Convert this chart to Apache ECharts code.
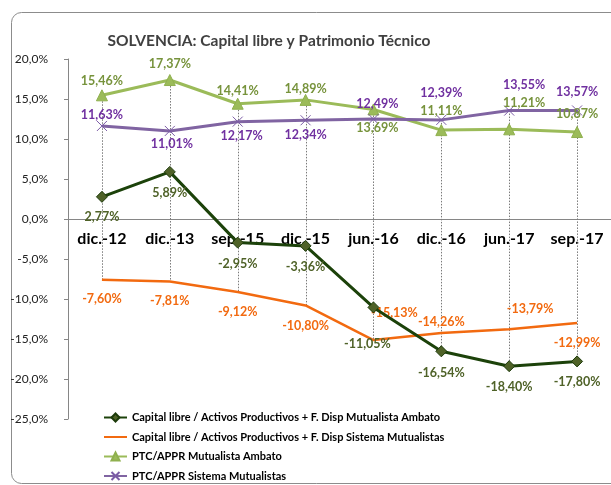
<!DOCTYPE html>
<html>
<head>
<meta charset="utf-8">
<script src="https://cdn.jsdelivr.net/npm/echarts@6/dist/echarts.min.js"></script>
<style>
html,body{margin:0;padding:0;background:#fff;}
#chart{width:611px;height:485px;}
</style>
</head>
<body>
<div id="chart"></div>
<script>
// ---- Data ----
const categories = ['dic.-12','dic.-13','sep.-15','dic.-15','jun.-16','dic.-16','jun.-17','sep.-17'];
const capLibreAmbato = [2.77, 5.89, -2.95, -3.36, -11.05, -16.54, -18.40, -17.80];
const capLibreSistema = [-7.60, -7.81, -9.12, -10.80, -15.13, -14.26, -13.79, -12.99];
const ptcAmbato = [15.46, 17.37, 14.41, 14.89, 13.69, 11.11, 11.21, 10.87];
const ptcSistema = [11.63, 11.01, 12.17, 12.34, 12.49, 12.39, 13.55, 13.57];
const seriesNames = [
  'Capital libre / Activos Productivos + F. Disp Mutualista Ambato',
  'Capital libre / Activos Productivos + F. Disp Sistema Mutualistas',
  'PTC/APPR Mutualista Ambato',
  'PTC/APPR Sistema Mutualistas'
];
const yMin = -25, yMax = 20, yStep = 5;

// ---- Label placement (style, px offsets from point) ----
const offA = [[0,20],[0,21],[0,21],[0,21],[-6,37],[0,22],[0,21],[0,21]];
const offB = [[0,19.5],[0,19],[0,20],[0,21],[21,-27],[0,-11],[21,-20],[0,20]];
const offC = [[0,-14],[0,-16],[0,-13],[0,-11],[4,18],[0,-19],[15,-26],[0,-18]];
const offD = [[0,-11],[2,13],[4,14],[0,15],[4,-15],[0,-27],[15,-26],[0,-18]];

const FONT = "Lato, sans-serif";
const fmtPct = v => v.toFixed(2).replace('.', ',') + '%';

function items(vals, offs) {
  return vals.map((v, i) => ({ value: v, label: { offset: offs[i] } }));
}
function labelStyle(color) {
  return {
    show: true, position: 'inside', color: color,
    fontFamily: FONT, fontWeight: 'bold', fontSize: 12.5,
    formatter: p => fmtPct(p.value)
  };
}

const allSeries = [capLibreAmbato, capLibreSistema, ptcAmbato, ptcSistema];
const hiLo = categories.map((c, i) => {
  const vals = allSeries.map(s => s[i]);
  return [i, Math.max(...vals), Math.min(...vals)];
});

const chart = echarts.init(document.getElementById('chart'), null, {renderer: 'canvas'});
chart.setOption({
  animation: false,
  backgroundColor: '#fff',
  graphic: [
    { type: 'rect', shape: {x: 11.5, y: 12.5, width: 660, height: 471, r: 10},
      style: {fill: 'none', stroke: '#8c8c8c', lineWidth: 1}, z: 0 },
    { type: 'text', x: 269, y: 41,
      style: { text: 'SOLVENCIA: Capital libre y Patrimonio Técnico', fill: '#404040',
        font: "bold 15.5px " + FONT, textAlign: 'center', textVerticalAlign: 'middle' }, z: 10 }
  ],
  grid: { left: 68, top: 59, width: 553, height: 360, containLabel: false },
  legend: {
    data: seriesNames,
    orient: 'vertical', left: 103, top: 412, height: 140, padding: 0,
    itemWidth: 23, itemHeight: 10, itemGap: 8.5,
    textStyle: { fontFamily: FONT, fontWeight: 'bold', fontSize: 11, color: '#000' }
  },
  xAxis: {
    type: 'category', data: categories, boundaryGap: true,
    offset: -200,
    axisLine: { onZero: false, lineStyle: { color: '#868686', width: 1 } },
    axisTick: { show: false },
    axisLabel: { margin: 12, color: '#000', fontFamily: FONT, fontWeight: 'bold', fontSize: 16, interval: 0 },
    splitLine: { show: false }
  },
  yAxis: {
    type: 'value', min: yMin, max: yMax, interval: yStep,
    axisLine: { show: true, lineStyle: { color: '#868686', width: 1 } },
    axisTick: { show: true, inside: false, length: 4, lineStyle: { color: '#868686' } },
    axisLabel: { margin: 20, color: '#222', fontFamily: FONT, fontSize: 12,
      formatter: v => v.toFixed(1).replace('.', ',') + '%' },
    splitLine: { show: false }
  },
  series: [
    {
      type: 'custom', silent: true, z: 1,
      data: hiLo,
      encode: { x: 0, y: [1, 2] },
      renderItem: (params, api) => {
        const p1 = api.coord([api.value(0), api.value(1)]);
        const p2 = api.coord([api.value(0), api.value(2)]);
        const x = Math.round(p1[0]) + 0.5;
        return { type: 'line', shape: { x1: x, y1: p1[1], x2: x, y2: p2[1] },
          style: { stroke: '#7a7a7a', lineWidth: 1, lineDash: [1.5, 1.5] } };
      }
    },
    {
      name: seriesNames[0], type: 'line', z: 5,
      data: items(capLibreAmbato, offA),
      symbol: 'diamond', symbolSize: 11,
      lineStyle: { color: '#1C420A', width: 3 },
      itemStyle: { color: '#4F6228', borderColor: '#1C3A0A', borderWidth: 1 },
      label: labelStyle('#4F6228')
    },
    {
      name: seriesNames[1], type: 'line', z: 4,
      data: items(capLibreSistema, offB),
      symbol: 'circle', symbolSize: 1, showSymbol: true,
      lineStyle: { color: '#F26A10', width: 2.5 },
      itemStyle: { color: 'rgba(0,0,0,0)', borderWidth: 0 },
      label: labelStyle('#F26A10')
    },
    {
      name: seriesNames[2], type: 'line', z: 3,
      data: items(ptcAmbato, offC),
      symbol: 'triangle', symbolSize: 11,
      lineStyle: { color: '#9BBB59', width: 3 },
      itemStyle: { color: '#9BBB59', borderColor: '#8FB04E', borderWidth: 1 },
      label: labelStyle('#77933C')
    },
    {
      name: seriesNames[3], type: 'line', z: 3,
      data: items(ptcSistema, offD),
      symbol: 'path://M0,0L10,10M10,0L0,10', symbolSize: 10,
      lineStyle: { color: '#8064A2', width: 3 },
      itemStyle: { color: 'rgba(0,0,0,0)', borderColor: '#7B5BA6', borderWidth: 1 },
      label: labelStyle('#7030A0')
    }
  ]
});
</script>
</body>
</html>
